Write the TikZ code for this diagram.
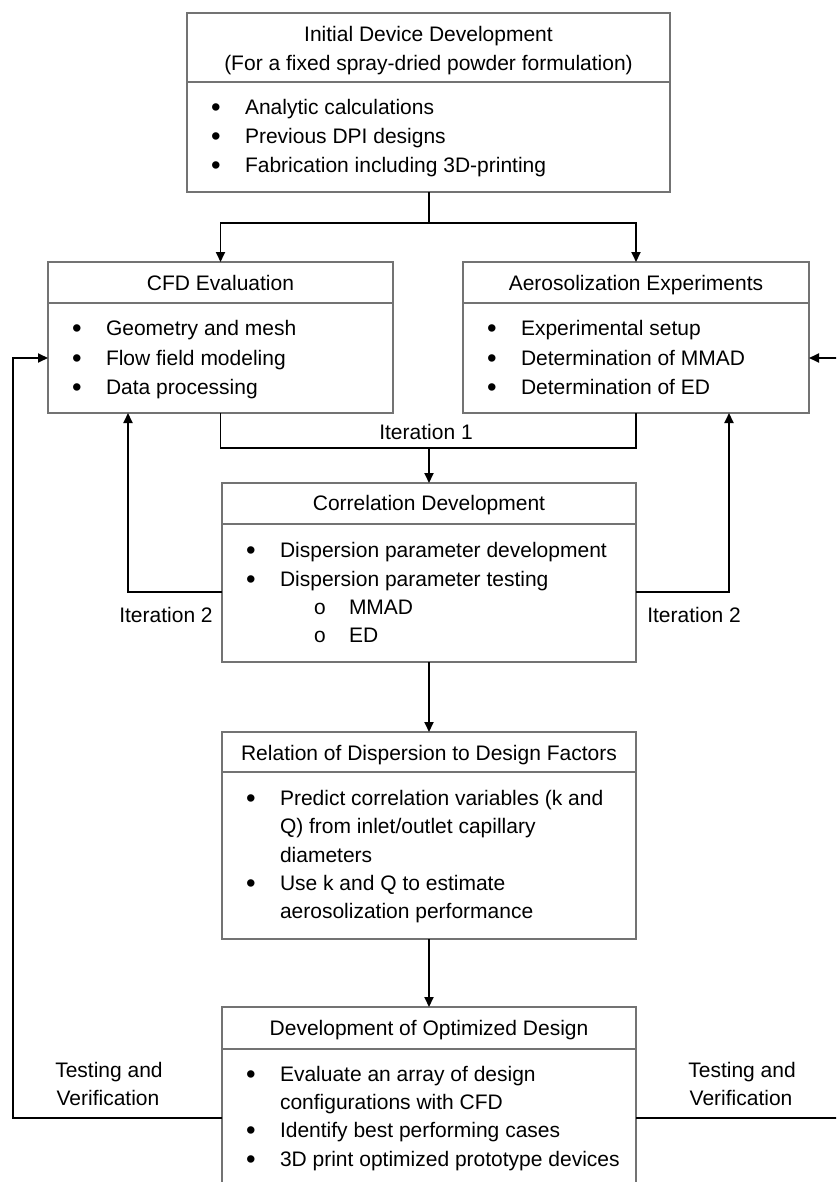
\documentclass[tikz,border=0pt]{standalone}
\usepackage{fontspec}
\setmainfont{Liberation Sans}
\newfontfamily\subbulfont{Liberation Mono}
\usetikzlibrary{arrows.meta}
\tikzset{
  boxpart/.style={draw=black!55, line width=1.3pt, inner sep=0pt, outer sep=0pt, anchor=north west},
  txt/.style={inner sep=0pt, outer sep=0pt, font=\fontsize{21pt}{25pt}\selectfont},
  conn/.style={line width=1.9pt, black},
  arr/.style={conn, -{Triangle[length=10pt,width=9pt]}}
}
\newcommand{\bigbul}{\raisebox{-2pt}{\scalebox{1.3}{\textbullet}}}
\newcommand{\bulline}[4]{%
  \node[txt,anchor=base] (#1dot) at (#2+29,#3) {\bigbul};
  \node[txt,anchor=base west] (#1) at (#2+58,#3) {#4};}
\newcommand{\contline}[4]{%
  \node[txt,anchor=base west] (#1) at (#2+58,#3) {#4};}
\newcommand{\subline}[4]{%
  \node[txt,anchor=base] (#1dot) at (#2+98,#3) {\subbulfont o};
  \node[txt,anchor=base west] (#1) at (#2+127,#3) {#4};}
\begin{document}
\begin{tikzpicture}[x=1pt,y=-1pt]
\useasboundingbox (0,0) rectangle (836,1182);
\clip (0,0) rectangle (836,1182);

% boxes
\node[boxpart, minimum width=483pt, minimum height=69pt] (t1) at (187,13) {};
\node[boxpart, minimum width=483pt, minimum height=110pt] (b1) at (187,82) {};
\node[boxpart, minimum width=345pt, minimum height=41pt] (cfdt) at (48,262) {};
\node[boxpart, minimum width=345pt, minimum height=110pt] (cfdb) at (48,303) {};
\node[boxpart, minimum width=346pt, minimum height=41pt] (aert) at (463,262) {};
\node[boxpart, minimum width=346pt, minimum height=110pt] (aerb) at (463,303) {};
\node[boxpart, minimum width=414pt, minimum height=41pt] (cort) at (222,483) {};
\node[boxpart, minimum width=414pt, minimum height=138pt] (corb) at (222,524) {};
\node[boxpart, minimum width=414pt, minimum height=40pt] (relt) at (222,732) {};
\node[boxpart, minimum width=414pt, minimum height=167pt] (relb) at (222,772) {};
\node[boxpart, minimum width=414pt, minimum height=42pt] (devt) at (222,1007) {};
\node[boxpart, minimum width=414pt, minimum height=180pt] (devb) at (222,1049) {};

% top box text
\node[txt,anchor=base] (t1a) at (428.5,42) {Initial Device Development};
\node[txt,anchor=base] (t1b) at (428.5,71) {(For a fixed spray-dried powder formulation)};
\bulline{ta}{187}{115}{Analytic calculations}
\bulline{tb}{187}{144}{Previous DPI designs}
\bulline{tc}{187}{173}{Fabrication including 3D-printing}

% CFD
\node[txt,anchor=base] (cfdtitle) at (220.5,290) {CFD Evaluation};
\bulline{ca}{48}{335}{Geometry and mesh}
\bulline{cb}{48}{365}{Flow field modeling}
\bulline{cc}{48}{394}{Data processing}

% Aerosolization
\node[txt,anchor=base] (aertitle) at (636,290) {Aerosolization Experiments};
\bulline{aa}{463}{335}{Experimental setup}
\bulline{ab}{463}{365}{Determination of MMAD}
\bulline{ac}{463}{394}{Determination of ED}

% Correlation
\node[txt,anchor=base] (cortitle) at (429,510) {Correlation Development};
\bulline{ka}{222}{557}{Dispersion parameter development}
\bulline{kb}{222}{586}{Dispersion parameter testing}
\subline{kc}{222}{614}{MMAD}
\subline{kd}{222}{642}{ED}

% Relation
\node[txt,anchor=base] (reltitle) at (429,760) {Relation of Dispersion to Design Factors};
\bulline{ra}{222}{805}{Predict correlation variables (k and}
\contline{rb}{222}{833}{Q) from inlet/outlet capillary}
\contline{rc}{222}{862}{diameters}
\bulline{rd}{222}{890}{Use k and Q to estimate}
\contline{re}{222}{918}{aerosolization performance}

% Development
\node[txt,anchor=base] (devtitle) at (429,1035) {Development of Optimized Design};
\bulline{da}{222}{1081}{Evaluate an array of design}
\contline{db}{222}{1109}{configurations with CFD}
\bulline{dc}{222}{1137}{Identify best performing cases}
\bulline{dd}{222}{1166}{3D print optimized prototype devices}

% labels
\node[txt,anchor=base] (it1lab) at (426,439) {Iteration 1};
\node[txt,anchor=base] (it2llab) at (166,622) {Iteration 2};
\node[txt,anchor=base] (it2rlab) at (694,622) {Iteration 2};
\node[txt,anchor=base] (tvla) at (109,1077) {Testing and};
\node[txt,anchor=base] (tvlb) at (108,1105) {Verification};
\node[txt,anchor=base] (tvra) at (742,1077) {Testing and};
\node[txt,anchor=base] (tvrb) at (741,1105) {Verification};

% coordinates
\coordinate (split) at (429,223);
\coordinate (it1) at (429,448);
\coordinate (it2l) at (128,592);
\coordinate (it2r) at (729,592);
\coordinate (tvl) at (13,1118);
\coordinate (tvr) at (846,1118);

% connectors
\draw[conn] (split |- b1.south) -- (split);
\draw[arr] (split) -| (cfdt.north);
\draw[arr] (split) -| (aert.north);
\draw[conn] (cfdb.south) |- (it1) -| (aerb.south);
\draw[arr] (it1) -- (it1 |- cort.north);
\draw[arr] (corb.south) -- (relt.north);
\draw[arr] (relb.south) -- (devt.north);
\draw[arr] (corb.west |- it2l) -- (it2l) -- (it2l |- cfdb.south);
\draw[arr] (corb.east |- it2r) -- (it2r) -- (it2r |- aerb.south);
\draw[arr] (devb.west |- tvl) -- (tvl) |- (cfdb.west);
\draw[arr] (devb.east |- tvr) -- (tvr) |- (aerb.east);
\end{tikzpicture}
\end{document}
